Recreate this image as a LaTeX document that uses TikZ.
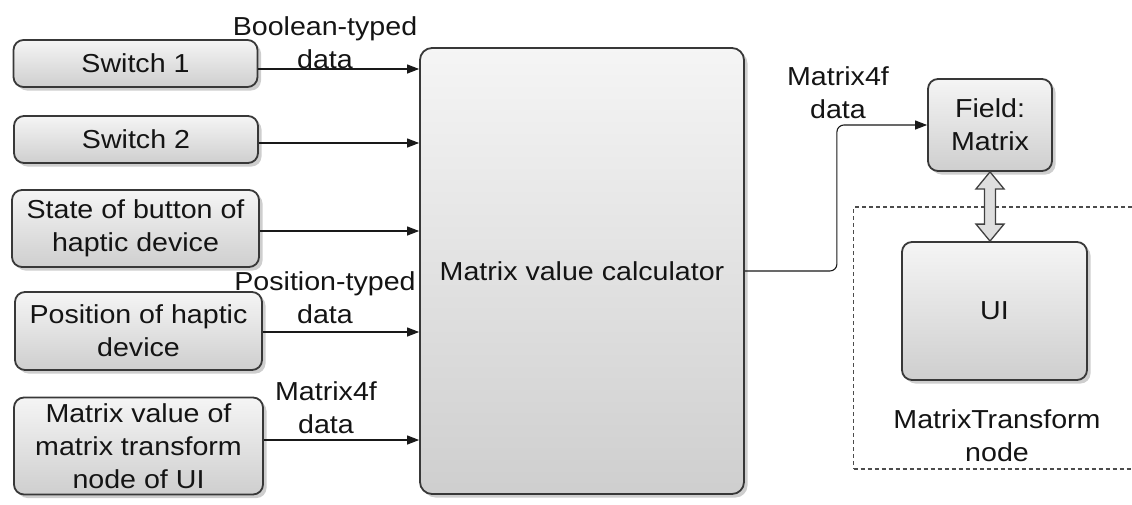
\documentclass[tikz,border=0pt]{standalone}
\usepackage{fontspec}
\setmainfont{Liberation Sans}[FakeStretch=1.1]
\usetikzlibrary{shadows,arrows.meta,calc}
\begin{document}
\begin{tikzpicture}[x=1pt,y=-1pt,
  font=\fontsize{26}{33}\selectfont,
  box/.style={draw=black!78, line width=1.8pt, rounded corners=10pt,
    top color=black!4, bottom color=black!19,
    drop shadow={shadow xshift=3.5pt, shadow yshift=-3.5pt, fill=black!38},
    align=center, inner sep=0pt, text=black!92},
  lbl/.style={align=center, inner sep=0pt, text=black!92},
  arr/.style={line width=1.1pt, draw=black!90, -{Triangle[length=12pt,width=9pt]}},
  dashbox/.style={draw=black!70, line width=1.1pt, dash pattern=on 4pt off 3pt, inner sep=0pt},
  dblarr/.style={draw=black!75, line width=1.3pt, fill=black!13, line join=miter}]
\useasboundingbox (0,0) rectangle (1132,504);

% left input boxes
\node[box, minimum width=244pt, minimum height=47pt] (s1) at (135.5,63.5) {Switch 1};
\node[box, minimum width=244pt, minimum height=47pt] (s2) at (136,139.5) {Switch 2};
\node[box, minimum width=247pt, minimum height=77pt] (st) at (135.5,228.5) {State of button of\\haptic device};
\node[box, minimum width=247pt, minimum height=78pt] (pos) at (138.5,331) {Position of haptic\\device};
\node[box, minimum width=249pt, minimum height=97pt] (mv) at (138.5,446) {Matrix value of\\matrix transform\\node of UI};

% main calculator
\node[box, rounded corners=12pt, minimum width=324pt, minimum height=446pt] (main) at (582,271) {Matrix value calculator};

% dashed frame
\node[dashbox, minimum width=281pt, minimum height=262pt] (frame) at (994,338) {};

% right boxes
\node[box, minimum width=124pt, minimum height=92pt] (field) at (990,125) {Field:\\Matrix};
\node[box, minimum width=185pt, minimum height=138pt] (ui) at (994.5,311) {UI};
\node[lbl] (mtn) at (997,436) {MatrixTransform\\node};

% connector labels
\node[lbl] (l1) at (325,43) {Boolean-typed\\data};
\node[lbl] (l2) at (325,298) {Position-typed\\data};
\node[lbl] (l3) at (326,408) {Matrix4f\\data};
\node[lbl] (l4) at (838,93) {Matrix4f\\data};

% input arrows
\draw[arr] ([yshift=-5.5pt]s1.east) -- ([yshift=-5.5pt]s1.east -| main.west);
\draw[arr] ([yshift=-3.5pt]s2.east) -- ([yshift=-3.5pt]s2.east -| main.west);
\draw[arr] ([yshift=-2.5pt]st.east) -- ([yshift=-2.5pt]st.east -| main.west);
\draw[arr] ([yshift=-1pt]pos.east) -- ([yshift=-1pt]pos.east -| main.west);
\draw[arr] ([yshift=6pt]mv.east) -- ([yshift=6pt]mv.east -| main.west);

% output connector
\draw[arr, rounded corners=7pt] (main.east) -- ++(92,0) |- (field.west);

% double arrow between field and UI
\coordinate (da) at (field.south);
\coordinate (db) at (da |- ui.north);
\filldraw[dblarr] (da) -- ++(14,17) -- ++(-8.5,0) -- ($(db)+(5.5,-17)$) -- ++(8.5,0)
  -- (db) -- ++(-14,-17) -- ++(8.5,0) -- ($(da)+(-5.5,17)$) -- ++(-8.5,0) -- cycle;
\end{tikzpicture}
\end{document}
